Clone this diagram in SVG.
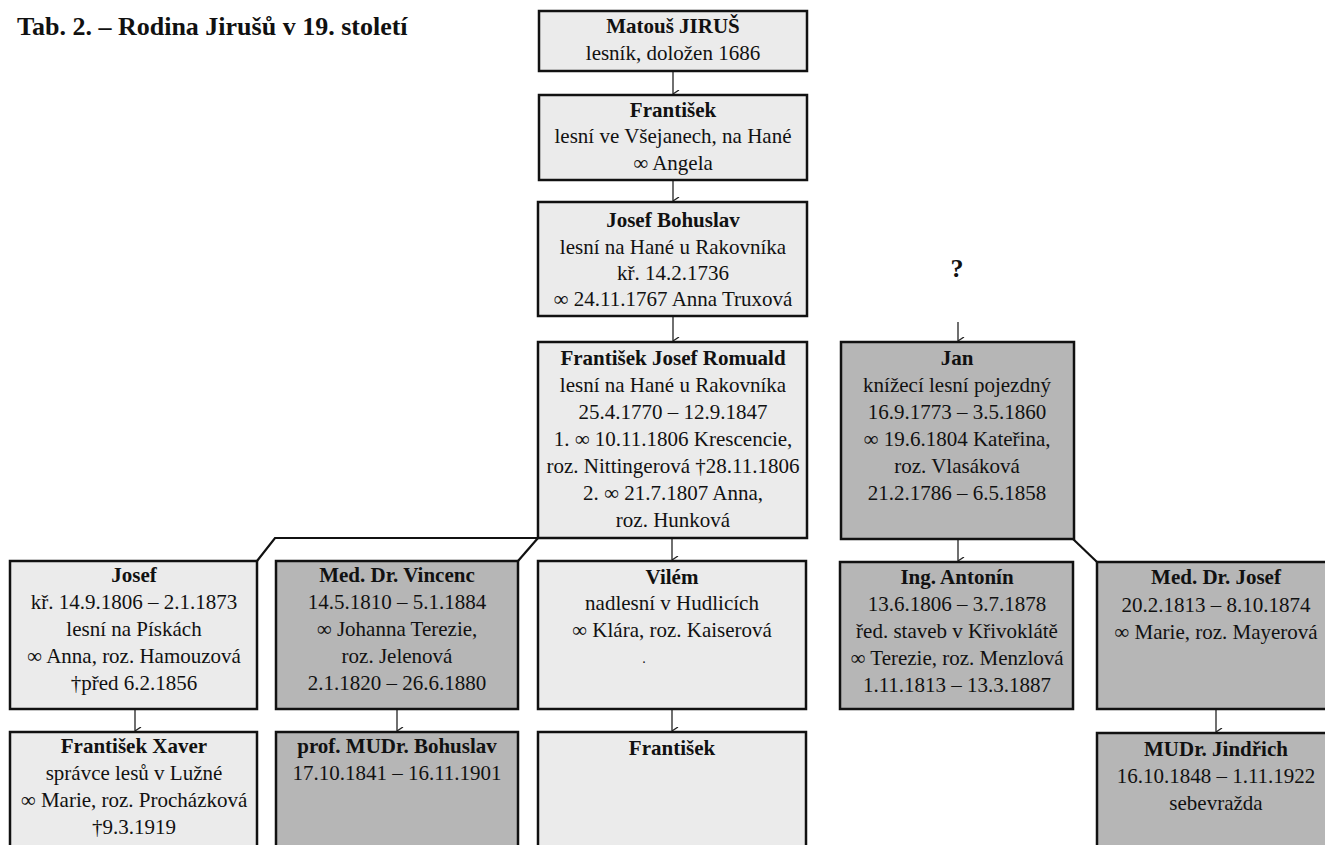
<svg xmlns="http://www.w3.org/2000/svg" width="1325" height="845" viewBox="0 0 1325 845" font-family="'Liberation Serif', 'Times New Roman', serif">
<style>
text{font-family:"Liberation Serif","Times New Roman",serif;font-size:21px;fill:#111;text-anchor:middle}
.b{font-weight:bold}
.title{font-size:26px;font-weight:bold;text-anchor:start}
.q{font-size:26px;font-weight:bold}
.lt{fill:#ebebeb;stroke:#111;stroke-width:2.5}
.dk{fill:#b6b6b6;stroke:#111;stroke-width:2.5}
.con{fill:none;stroke:#111;stroke-width:2.2}
.arr{fill:none;stroke:#222;stroke-width:1.3;marker-end:url(#ah)}
</style>
<defs>
<marker id="ah" viewBox="0 0 8 8" refX="4" refY="8" markerWidth="8" markerHeight="8" markerUnits="userSpaceOnUse" orient="auto-start-reverse">
<path d="M0,2 L4,8 L8,2" fill="none" stroke="#222" stroke-width="1.3"/>
</marker>
</defs>
<rect width="1325" height="845" fill="#fff"/>
<text class="title" x="17" y="35">Tab. 2. – Rodina Jirušů v 19. století</text>
<text class="q" x="957" y="277">?</text>

<g id="connectors">
<path class="con" d="M538,538 H275 L257,561"/>
<path class="con" d="M538,538 L518,561"/>
<path class="con" d="M1073,539 L1097,562"/>
<line class="arr" x1="673" y1="72" x2="673" y2="94"/>
<line class="arr" x1="673" y1="181" x2="673" y2="201"/>
<line class="arr" x1="673" y1="317" x2="673" y2="341"/>
<line class="arr" x1="672" y1="539" x2="672" y2="560"/>
<line class="arr" x1="958" y1="322" x2="958" y2="341"/>
<line class="arr" x1="958" y1="540" x2="958" y2="561"/>
<line class="arr" x1="135" y1="710" x2="135" y2="731"/>
<line class="arr" x1="397" y1="710" x2="397" y2="731"/>
<line class="arr" x1="672" y1="710" x2="672" y2="731"/>
<line class="arr" x1="1216" y1="710" x2="1216" y2="732"/>
</g>

<g id="matous">
<rect class="lt" x="539" y="11" width="268" height="60"/>
<text class="b" x="673" y="33">Matouš JIRUŠ</text>
<text x="673" y="60">lesník, doložen 1686</text>
</g>
<g id="frantisek1">
<rect class="lt" x="539" y="95" width="268" height="85"/>
<text class="b" x="673" y="117">František</text>
<text x="673" y="143">lesní ve Všejanech, na Hané</text>
<text x="673" y="170">∞ Angela</text>
</g>
<g id="josefbohuslav">
<rect class="lt" x="538" y="202" width="269" height="114"/>
<text class="b" x="673" y="227">Josef Bohuslav</text>
<text x="673" y="254">lesní na Hané u Rakovníka</text>
<text x="673" y="280">kř. 14.2.1736</text>
<text x="673" y="306">∞ 24.11.1767 Anna Truxová</text>
</g>
<g id="frantisekjosef">
<rect class="lt" x="538" y="342" width="269" height="196"/>
<text class="b" x="673" y="365">František Josef Romuald</text>
<text x="673" y="392">lesní na Hané u Rakovníka</text>
<text x="673" y="419">25.4.1770 – 12.9.1847</text>
<text x="673" y="446">1. ∞ 10.11.1806 Krescencie,</text>
<text x="673" y="473">roz. Nittingerová †28.11.1806</text>
<text x="673" y="500">2. ∞ 21.7.1807  Anna,</text>
<text x="673" y="527">roz. Hunková</text>
</g>
<g id="jan">
<rect class="dk" x="841" y="342" width="233" height="197"/>
<text class="b" x="957" y="365">Jan</text>
<text x="957" y="392">knížecí lesní pojezdný</text>
<text x="957" y="419">16.9.1773 – 3.5.1860</text>
<text x="957" y="446">∞ 19.6.1804 Kateřina,</text>
<text x="957" y="473">roz. Vlasáková</text>
<text x="957" y="500">21.2.1786 – 6.5.1858</text>
</g>
<g id="josef">
<rect class="lt" x="10" y="561" width="247" height="148"/>
<text class="b" x="134" y="582">Josef</text>
<text x="134" y="609">kř. 14.9.1806 – 2.1.1873</text>
<text x="134" y="636">lesní na Pískách</text>
<text x="134" y="663">∞ Anna, roz. Hamouzová</text>
<text x="134" y="690">†před 6.2.1856</text>
</g>
<g id="vincenc">
<rect class="dk" x="276" y="561" width="242" height="148"/>
<text class="b" x="397" y="582">Med. Dr. Vincenc</text>
<text x="397" y="609">14.5.1810 – 5.1.1884</text>
<text x="397" y="636">∞ Johanna Terezie,</text>
<text x="397" y="663">roz. Jelenová</text>
<text x="397" y="690">2.1.1820 – 26.6.1880</text>
</g>
<g id="vilem">
<rect class="lt" x="538" y="561" width="268" height="148"/>
<text class="b" x="672" y="584">Vilém</text>
<text x="672" y="610">nadlesní v Hudlicích</text>
<text x="672" y="637">∞ Klára, roz. Kaiserová</text>
<text x="644" y="663" style="font-size:14px">.</text>
</g>
<g id="antonin">
<rect class="dk" x="840" y="562" width="233" height="147"/>
<text class="b" x="957" y="584">Ing. Antonín</text>
<text x="957" y="611">13.6.1806 – 3.7.1878</text>
<text x="957" y="638">řed. staveb v Křivoklátě</text>
<text x="957" y="665">∞ Terezie, roz. Menzlová</text>
<text x="957" y="692">1.11.1813 – 13.3.1887</text>
</g>
<g id="meddrjosef">
<rect class="dk" x="1097" y="562" width="240" height="147"/>
<text class="b" x="1216" y="584">Med. Dr. Josef</text>
<text x="1216" y="612">20.2.1813 – 8.10.1874</text>
<text x="1216" y="639">∞ Marie, roz. Mayerová</text>
</g>
<g id="frantisekxaver">
<rect class="lt" x="10" y="732" width="247" height="130"/>
<text class="b" x="134" y="753">František Xaver</text>
<text x="134" y="780">správce lesů v Lužné</text>
<text x="134" y="807">∞ Marie, roz. Procházková</text>
<text x="134" y="834">†9.3.1919</text>
</g>
<g id="bohuslav">
<rect class="dk" x="276" y="732" width="242" height="130"/>
<text class="b" x="397" y="753">prof. MUDr. Bohuslav</text>
<text x="397" y="780">17.10.1841 – 16.11.1901</text>
</g>
<g id="frantisek2">
<rect class="lt" x="538" y="732" width="268" height="130"/>
<text class="b" x="672" y="755">František</text>
</g>
<g id="jindrich">
<rect class="dk" x="1097" y="733" width="240" height="130"/>
<text class="b" x="1216" y="756">MUDr. Jindřich</text>
<text x="1216" y="783">16.10.1848 – 1.11.1922</text>
<text x="1216" y="810">sebevražda</text>
</g>
</svg>
